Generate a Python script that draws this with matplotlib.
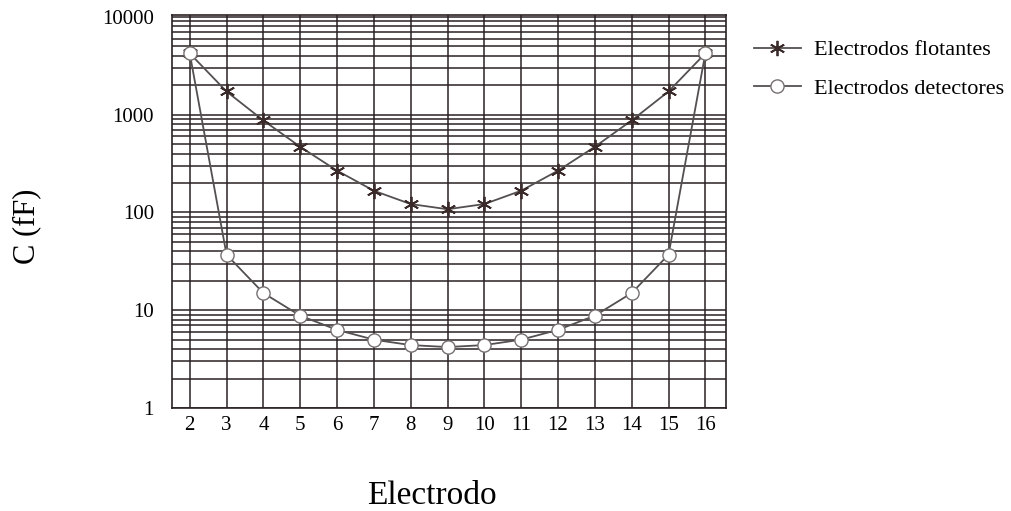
import matplotlib.pyplot as plt
from matplotlib.ticker import LogLocator, NullFormatter, FixedLocator

plt.rcParams['font.family'] = ['Liberation Serif', 'DejaVu Serif']

# datos
electrodos = [2, 3, 4, 5, 6, 7, 8, 9, 10, 11, 12, 13, 14, 15, 16]
flotantes = [4250, 1730, 875, 470, 268, 167, 122, 108, 122, 167, 268, 470, 875, 1730, 4250]
detectores = [4250, 37, 15, 8.8, 6.3, 5.0, 4.4, 4.2, 4.4, 5.0, 6.3, 8.8, 15, 37, 4250]
yticks = [1, 10, 100, 1000, 10000]

fig = plt.figure(figsize=(10.12, 5.11), dpi=100)
ax = fig.add_axes([0.170, 0.2016, 0.547, 0.769])

ax.set_yscale('log')
ax.set_ylim(1, 10480)
ax.set_xlim(1.52, 16.55)

# rejilla
ax.xaxis.set_major_locator(FixedLocator(electrodos))
ax.yaxis.set_major_locator(FixedLocator(yticks))
ax.yaxis.set_minor_locator(LogLocator(base=10, subs=range(2, 10)))
ax.yaxis.set_minor_formatter(NullFormatter())
ax.set_yticklabels([str(v) for v in yticks])
ax.grid(which='both', color='#2a2222', linewidth=1.1)
ax.tick_params(which='both', length=0, labelsize=15)
ax.tick_params(axis='y', pad=13)
ax.tick_params(axis='x', pad=6)
for s in ax.spines.values():
    s.set_color('#2a2222')
    s.set_linewidth(1.2)

ax.plot(electrodos, flotantes, color='#555050', lw=1.3, marker=(6, 2, 0),
        ms=11, mec='#3a2a2a', mew=1.3, label='Electrodos flotantes', zorder=3)
ax.plot(electrodos, detectores, color='#555050', lw=1.3, marker='o',
        ms=9.5, mfc='white', mec='#777070', mew=1.0, label='Electrodos detectores', zorder=4)

ax.set_ylabel('C (fF)', fontsize=22)
ax.yaxis.set_label_coords(-0.236, 0.463)
ax.set_xlabel('Electrodo', fontsize=24)
ax.xaxis.set_label_coords(0.470, -0.185)

fig.legend(*ax.get_legend_handles_labels(), loc='upper left',
           bbox_to_anchor=(0.745, 0.922), frameon=False, fontsize=16,
           handlelength=2.1, labelspacing=0.8, handletextpad=0.6,
           borderpad=0, borderaxespad=0)

fig.savefig('out.png', dpi=100, facecolor='white')
